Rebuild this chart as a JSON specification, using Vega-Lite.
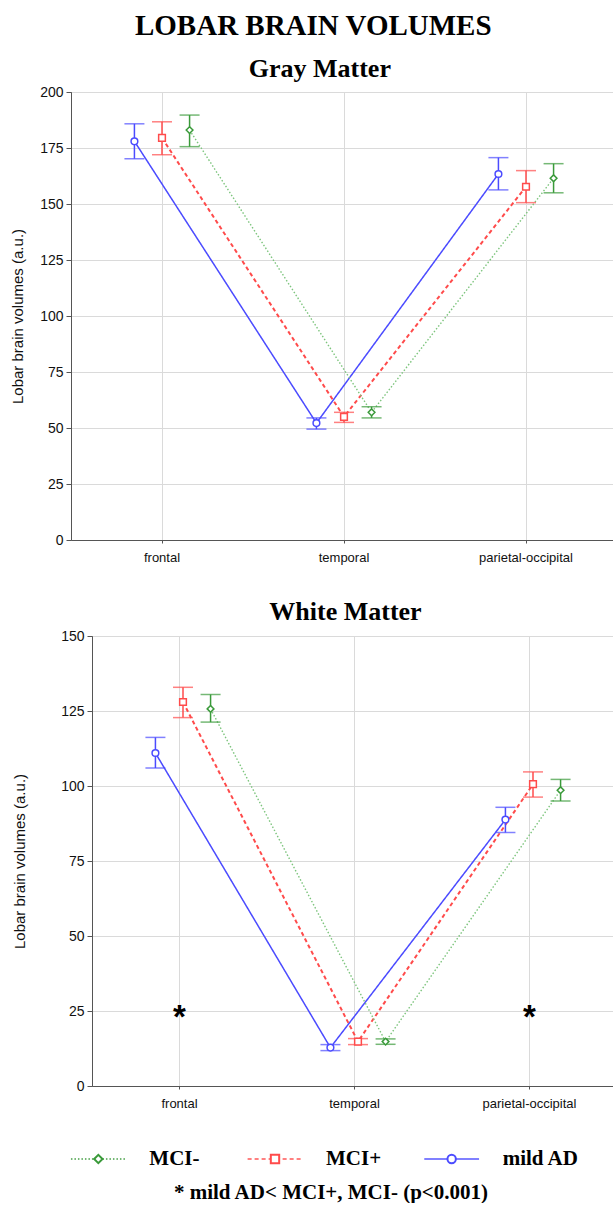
{
  "$schema": "https://vega.github.io/schema/vega-lite/v6.json",
  "padding": {"left": 9, "top": 11, "right": 0, "bottom": 0},
  "title": {"text": "LOBAR BRAIN VOLUMES", "font": "Liberation Serif", "fontSize": 29, "fontWeight": "bold", "color": "#000", "anchor": "middle", "offset": 15},
  "config": {
    "font": "Liberation Sans",
    "view": {"stroke": "#555", "strokeWidth": 1},
    "axis": {"domainColor": "#555", "tickColor": "#555", "gridColor": "#dadada", "labelColor": "#111", "titleColor": "#111", "labelFont": "Liberation Sans", "titleFont": "Liberation Sans"}
  },
  "spacing": 33,
  "datasets": {
    "gray": [
      {"lobe": "frontal", "group": "mild AD", "mean": 178, "lo": 170.2, "hi": 185.8},
      {"lobe": "frontal", "group": "MCI+", "mean": 179.5, "lo": 172, "hi": 186.7},
      {"lobe": "frontal", "group": "MCI-", "mean": 183, "lo": 175.6, "hi": 189.7},
      {"lobe": "temporal", "group": "mild AD", "mean": 52.2, "lo": 49.5, "hi": 54.5},
      {"lobe": "temporal", "group": "MCI+", "mean": 55, "lo": 52.5, "hi": 57},
      {"lobe": "temporal", "group": "MCI-", "mean": 57, "lo": 54.5, "hi": 59.5},
      {"lobe": "parietal-occipital", "group": "mild AD", "mean": 163.4, "lo": 156.3, "hi": 170.7},
      {"lobe": "parietal-occipital", "group": "MCI+", "mean": 157.7, "lo": 150.6, "hi": 164.9},
      {"lobe": "parietal-occipital", "group": "MCI-", "mean": 161.5, "lo": 155, "hi": 168}
    ],
    "white": [
      {"lobe": "frontal", "group": "mild AD", "mean": 111, "lo": 106, "hi": 116.2},
      {"lobe": "frontal", "group": "MCI+", "mean": 128, "lo": 122.8, "hi": 132.9},
      {"lobe": "frontal", "group": "MCI-", "mean": 125.7, "lo": 121.3, "hi": 130.5},
      {"lobe": "temporal", "group": "mild AD", "mean": 12.8, "lo": 11.8, "hi": 13.8},
      {"lobe": "temporal", "group": "MCI+", "mean": 14.8, "lo": 13.8, "hi": 15.8},
      {"lobe": "temporal", "group": "MCI-", "mean": 14.8, "lo": 13.9, "hi": 15.7},
      {"lobe": "parietal-occipital", "group": "mild AD", "mean": 88.8, "lo": 84.5, "hi": 92.9},
      {"lobe": "parietal-occipital", "group": "MCI+", "mean": 100.6, "lo": 96.3, "hi": 104.7},
      {"lobe": "parietal-occipital", "group": "MCI-", "mean": 98.6, "lo": 95, "hi": 102.2}
    ],
    "stars": [
      {"lobe": "frontal", "v": 24.5, "label": "*"},
      {"lobe": "parietal-occipital", "v": 24.5, "label": "*"}
    ],
    "legend": [
      {"group": "MCI-"},
      {"group": "MCI+"},
      {"group": "mild AD"}
    ]
  },
  "vconcat": [
    {
      "spacing": 0,
      "hconcat": [
        {
          "width": 1,
          "height": 1,
          "view": {"stroke": null},
          "data": {"values": []},
          "mark": "point"
        },
        {
          "title": {"text": "Gray Matter", "font": "Liberation Serif", "fontSize": 26, "fontWeight": "bold", "color": "#000", "anchor": "middle", "frame": "bounds", "offset": 3, "dx": 6},
          "width": 546,
          "height": 448,
          "data": {"name": "gray"},
          "encoding": {
            "x": {"field": "lobe", "type": "nominal", "sort": ["frontal", "temporal", "parietal-occipital"], "scale": {"paddingInner": 0, "paddingOuter": 0},
              "axis": {"title": null, "labelAngle": 0, "labelFontSize": 13, "labelPadding": 8, "grid": true, "tickSize": 3}},
            "xOffset": {"field": "group", "type": "nominal", "scale": {"domain": ["_a", "mild AD", "MCI+", "MCI-", "_b"], "paddingInner": 0, "paddingOuter": 0.8}}
          },
          "layer": [
            {
              "mark": {"type": "line"},
              "encoding": {
                "y": {"field": "mean", "type": "quantitative", "scale": {"domain": [0, 200], "nice": false},
                  "axis": {"title": "Lobar brain volumes (a.u.)", "values": [0, 25, 50, 75, 100, 125, 150, 175, 200], "labelFontSize": 14, "titleFontSize": 15, "titleFontWeight": "normal", "titlePadding": 14, "tickSize": 5, "labelPadding": 3, "grid": true}},
                "stroke": {"field": "group", "type": "nominal", "scale": {"domain": ["mild AD", "MCI+", "MCI-"], "range": ["#4b4bff", "#ff4b4b", "#7cc47c"]}, "legend": null},
                "strokeDash": {"field": "group", "type": "nominal", "scale": {"domain": ["mild AD", "MCI+", "MCI-"], "range": [[1, 0], [4, 3], [1.5, 2]]}, "legend": null},
                "strokeWidth": {"field": "group", "type": "nominal", "scale": {"type": "ordinal", "domain": ["mild AD", "MCI+", "MCI-"], "range": [1.5, 2, 1.4]}, "legend": null}
              }
            },
            {
              "mark": {"type": "rule", "strokeWidth": 1.5},
              "encoding": {
                "y": {"field": "lo", "type": "quantitative", "scale": {"domain": [0, 200], "nice": false}},
                "y2": {"field": "hi"},
                "color": {"field": "group", "type": "nominal", "scale": {"domain": ["mild AD", "MCI+", "MCI-"], "range": ["#4b4bff", "#ff4b4b", "#3a9a3a"]}, "legend": null}
              }
            },
            {
              "mark": {"type": "tick", "size": 20, "thickness": 1.5},
              "encoding": {
                "y": {"field": "lo", "type": "quantitative", "scale": {"domain": [0, 200], "nice": false}},
                "color": {"field": "group", "type": "nominal", "legend": null}
              }
            },
            {
              "mark": {"type": "tick", "size": 20, "thickness": 1.5},
              "encoding": {
                "y": {"field": "hi", "type": "quantitative", "scale": {"domain": [0, 200], "nice": false}},
                "color": {"field": "group", "type": "nominal", "legend": null}
              }
            },
            {
              "mark": {"type": "point", "filled": false, "fill": "white", "fillOpacity": 1, "opacity": 1, "strokeWidth": 1.5, "size": 45},
              "encoding": {
                "y": {"field": "mean", "type": "quantitative", "scale": {"domain": [0, 200], "nice": false}},
                "color": {"field": "group", "type": "nominal", "legend": null},
                "shape": {"field": "group", "type": "nominal", "scale": {"domain": ["mild AD", "MCI+", "MCI-"], "range": ["circle", "square", "diamond"]}, "legend": null}
              }
            }
          ]
        }
      ]
    },
    {
      "spacing": 2,
      "hconcat": [
        {
          "width": 1,
          "height": 1,
          "view": {"stroke": null},
          "data": {"values": []},
          "mark": "point"
        },
        {
          "title": {"text": "White Matter", "font": "Liberation Serif", "fontSize": 26, "fontWeight": "bold", "color": "#000", "anchor": "middle", "frame": "group", "offset": 4, "dx": -9},
          "width": 525,
          "height": 450,
          "encoding": {
            "x": {"field": "lobe", "type": "nominal", "sort": ["frontal", "temporal", "parietal-occipital"], "scale": {"paddingInner": 0, "paddingOuter": 0},
              "axis": {"title": null, "labelAngle": 0, "labelFontSize": 13, "labelPadding": 8, "grid": true, "tickSize": 3}}
          },
          "layer": [
            {
              "data": {"name": "white"},
              "mark": {"type": "line"},
              "encoding": {
                "xOffset": {"field": "group", "type": "nominal", "scale": {"domain": ["_a", "mild AD", "MCI+", "MCI-", "_b"], "paddingInner": 0, "paddingOuter": 0.8}},
                "y": {"field": "mean", "type": "quantitative", "scale": {"domain": [0, 150], "nice": false},
                  "axis": {"title": "Lobar brain volumes (a.u.)", "values": [0, 25, 50, 75, 100, 125, 150], "labelFontSize": 14, "titleFontSize": 15, "titleFontWeight": "normal", "titlePadding": 33, "tickSize": 5, "labelPadding": 3, "grid": true}},
                "stroke": {"field": "group", "type": "nominal", "scale": {"domain": ["mild AD", "MCI+", "MCI-"], "range": ["#4b4bff", "#ff4b4b", "#7cc47c"]}, "legend": null},
                "strokeDash": {"field": "group", "type": "nominal", "scale": {"domain": ["mild AD", "MCI+", "MCI-"], "range": [[1, 0], [4, 3], [1.5, 2]]}, "legend": null},
                "strokeWidth": {"field": "group", "type": "nominal", "scale": {"type": "ordinal", "domain": ["mild AD", "MCI+", "MCI-"], "range": [1.5, 2, 1.4]}, "legend": null}
              }
            },
            {
              "data": {"name": "white"},
              "mark": {"type": "rule", "strokeWidth": 1.5},
              "encoding": {
                "xOffset": {"field": "group", "type": "nominal", "scale": {"domain": ["_a", "mild AD", "MCI+", "MCI-", "_b"], "paddingInner": 0, "paddingOuter": 0.8}},
                "y": {"field": "lo", "type": "quantitative", "scale": {"domain": [0, 150], "nice": false}},
                "y2": {"field": "hi"},
                "color": {"field": "group", "type": "nominal", "scale": {"domain": ["mild AD", "MCI+", "MCI-"], "range": ["#4b4bff", "#ff4b4b", "#3a9a3a"]}, "legend": null}
              }
            },
            {
              "data": {"name": "white"},
              "mark": {"type": "tick", "size": 20, "thickness": 1.5},
              "encoding": {
                "xOffset": {"field": "group", "type": "nominal", "scale": {"domain": ["_a", "mild AD", "MCI+", "MCI-", "_b"], "paddingInner": 0, "paddingOuter": 0.8}},
                "y": {"field": "lo", "type": "quantitative", "scale": {"domain": [0, 150], "nice": false}},
                "color": {"field": "group", "type": "nominal", "legend": null}
              }
            },
            {
              "data": {"name": "white"},
              "mark": {"type": "tick", "size": 20, "thickness": 1.5},
              "encoding": {
                "xOffset": {"field": "group", "type": "nominal", "scale": {"domain": ["_a", "mild AD", "MCI+", "MCI-", "_b"], "paddingInner": 0, "paddingOuter": 0.8}},
                "y": {"field": "hi", "type": "quantitative", "scale": {"domain": [0, 150], "nice": false}},
                "color": {"field": "group", "type": "nominal", "legend": null}
              }
            },
            {
              "data": {"name": "white"},
              "mark": {"type": "point", "filled": false, "fill": "white", "fillOpacity": 1, "opacity": 1, "strokeWidth": 1.5, "size": 45},
              "encoding": {
                "xOffset": {"field": "group", "type": "nominal", "scale": {"domain": ["_a", "mild AD", "MCI+", "MCI-", "_b"], "paddingInner": 0, "paddingOuter": 0.8}},
                "y": {"field": "mean", "type": "quantitative", "scale": {"domain": [0, 150], "nice": false}},
                "color": {"field": "group", "type": "nominal", "legend": null},
                "shape": {"field": "group", "type": "nominal", "scale": {"domain": ["mild AD", "MCI+", "MCI-"], "range": ["circle", "square", "diamond"]}, "legend": null}
              }
            },
            {
              "data": {"name": "stars"},
              "mark": {"type": "text", "font": "Liberation Sans", "fontWeight": "bold", "fontSize": 33, "color": "#000", "baseline": "middle", "dy": 5},
              "encoding": {
                "y": {"field": "v", "type": "quantitative", "scale": {"domain": [0, 150], "nice": false}},
                "text": {"field": "label"}
              }
            }
          ]
        }
      ]
    },
    {
      "spacing": 0,
      "hconcat": [
        {
          "width": 1,
          "height": 1,
          "view": {"stroke": null},
          "data": {"values": []},
          "mark": "point"
        },
        {
          "title": {"text": "* mild AD< MCI+, MCI- (p<0.001)", "orient": "bottom", "font": "Liberation Serif", "fontSize": 21, "fontWeight": "bold", "color": "#000", "anchor": "middle", "frame": "group", "offset": 8, "dx": 56},
          "width": 530,
          "height": 30,
          "view": {"stroke": null},
          "data": {"name": "legend"},
          "encoding": {
            "x": {"field": "group", "type": "nominal", "sort": ["MCI-", "MCI+", "mild AD"], "scale": {"type": "point", "padding": 0.5}, "axis": null}
          },
          "layer": [
            {
              "mark": {"type": "point", "shape": "M-1,0L1,0", "size": 3000, "filled": false, "strokeWidth": 2},
              "encoding": {
                "color": {"field": "group", "type": "nominal", "scale": {"domain": ["MCI-", "MCI+", "mild AD"], "range": ["#2a9a2a", "#ff2020", "#2020ff"]}, "legend": null},
                "strokeDash": {"field": "group", "type": "nominal", "scale": {"domain": ["MCI-", "MCI+", "mild AD"], "range": [[2, 2], [5, 3], [8, 4]]}, "legend": null}
              }
            },
            {
              "mark": {"type": "point", "filled": false, "fill": "white", "fillOpacity": 1, "opacity": 1, "strokeWidth": 2, "size": 70},
              "encoding": {
                "color": {"field": "group", "type": "nominal", "legend": null},
                "shape": {"field": "group", "type": "nominal", "scale": {"domain": ["MCI-", "MCI+", "mild AD"], "range": ["diamond", "square", "circle"]}, "legend": null}
              }
            },
            {
              "mark": {"type": "text", "font": "Liberation Serif", "fontWeight": "bold", "fontSize": 21, "color": "#000", "align": "left", "dx": 51},
              "encoding": {
                "text": {"field": "group"}
              }
            }
          ]
        }
      ]
    }
  ]
}
